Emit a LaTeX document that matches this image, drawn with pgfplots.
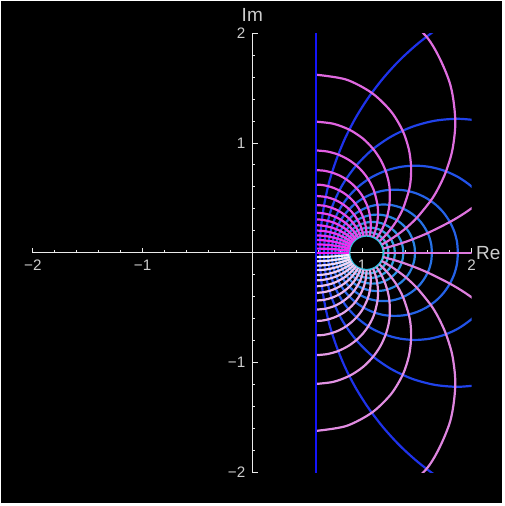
\documentclass[border=0pt]{standalone}
\usepackage{fontspec}
\setmainfont{Liberation Sans}
\usepackage{pgfplots}
\pgfplotsset{compat=1.18}
% colours
\definecolor{axgray}{RGB}{235,235,235}
\definecolor{lblgray}{RGB}{205,205,205}
\definecolor{bline}{RGB}{20,20,250}
\definecolor{bA}{RGB}{30,50,235}
\definecolor{bB}{RGB}{50,195,225}
\definecolor{pM}{RGB}{220,120,220}
\definecolor{pU}{RGB}{245,30,245}
\definecolor{pL}{RGB}{248,240,252}
\tikzset{
  pk/.style={line width=1.1pt, smooth},
  bl/.style={line width=1.1pt, smooth},
}
\begin{document}
\begin{tikzpicture}
\fill[white] (-16.45pt,-16.85pt) rectangle (235.55pt,236.15pt);
\fill[black] (-15.95pt,-15.35pt) rectangle (234.55pt,235.65pt);
\begin{axis}[
  scale only axis, width=219.4pt, height=219.5pt,
  anchor=south west, at={(0pt,0pt)},
  xmin=-2, xmax=2, ymin=-2, ymax=2,
  axis lines=middle,
  axis line style={-, draw=axgray, line width=0.5pt},
  xtick={-2,-1,1,2}, ytick={-2,-1,1,2},
  xticklabels={−2,−1,1,2}, yticklabels={−2,−1,1,2},
  minor xtick={-1.8,-1.6,-1.4,-1.2,-0.8,-0.6,-0.4,-0.2,0.2,0.4,0.6,0.8,1.2,1.4,1.6,1.8},
  minor ytick={-1.8,-1.6,-1.4,-1.2,-0.8,-0.6,-0.4,-0.2,0.2,0.4,0.6,0.8,1.2,1.4,1.6,1.8},
  tick style={draw=axgray, line width=0.5pt},
  major tick length=2.6pt, minor tick length=1.5pt,
  tick align=inside,
  ticklabel style={font=\fontsize{7.6}{8}\selectfont, text=lblgray},
  xlabel={Re}, ylabel={Im},
  every axis x label/.style={at={(rel axis cs:1,0.5)}, anchor=west, inner sep=2pt, font=\fontsize{9.5}{10}\selectfont, text=lblgray},
  every axis y label/.style={at={(rel axis cs:0.5,1)}, anchor=south, inner sep=1pt, yshift=4.5pt, font=\fontsize{9.5}{10}\selectfont, text=lblgray},
]
% ---- blue circles
\addplot[bl, draw=bA] coordinates {(1.856,2.148) (1.673,2.031) (1.502,1.900) (1.342,1.754) (1.196,1.594) (1.064,1.422) (0.948,1.240) (0.848,1.048) (0.766,0.848) (0.700,0.642) (0.654,0.431) (0.625,0.216) (0.616,0) (0.625,-0.216) (0.654,-0.431) (0.700,-0.642) (0.766,-0.848) (0.848,-1.048) (0.948,-1.240) (1.064,-1.422) (1.196,-1.594) (1.342,-1.754) (1.502,-1.900) (1.673,-2.031) (1.856,-2.148)};
\addplot[bl, draw=bB!11!bA] coordinates {(2.087,1.203) (1.874,1.221) (1.662,1.203) (1.457,1.148) (1.264,1.058) (1.089,0.936) (0.939,0.785) (0.817,0.611) (0.727,0.418) (0.672,0.212) (0.653,0) (0.672,-0.212) (0.727,-0.418) (0.817,-0.611) (0.939,-0.785) (1.089,-0.936) (1.264,-1.058) (1.457,-1.148) (1.662,-1.203) (1.874,-1.221) (2.087,-1.203)};
\addplot[bl, draw=bB!22!bA] coordinates {(2.092,0.510) (1.994,0.608) (1.880,0.688) (1.755,0.746) (1.621,0.782) (1.483,0.794) (1.346,0.782) (1.212,0.746) (1.086,0.688) (0.973,0.608) (0.875,0.510) (0.796,0.397) (0.737,0.272) (0.702,0.138) (0.689,0) (0.702,-0.138) (0.737,-0.272) (0.796,-0.397) (0.875,-0.510) (0.973,-0.608) (1.086,-0.688) (1.212,-0.746) (1.346,-0.782) (1.483,-0.794) (1.621,-0.782) (1.755,-0.746) (1.880,-0.688) (1.994,-0.608) (2.092,-0.510)};
\addplot[bl, draw=bB!33!bA] coordinates {(1.874,0) (1.866,0.100) (1.840,0.197) (1.797,0.288) (1.740,0.370) (1.669,0.441) (1.587,0.498) (1.496,0.541) (1.399,0.567) (1.299,0.575) (1.199,0.567) (1.103,0.541) (1.012,0.498) (0.930,0.441) (0.859,0.370) (0.801,0.288) (0.759,0.197) (0.733,0.100) (0.724,0) (0.733,-0.100) (0.759,-0.197) (0.801,-0.288) (0.859,-0.370) (0.930,-0.441) (1.012,-0.498) (1.103,-0.541) (1.199,-0.567) (1.299,-0.575) (1.399,-0.567) (1.496,-0.541) (1.587,-0.498) (1.669,-0.441) (1.740,-0.370) (1.797,-0.288) (1.840,-0.197) (1.866,-0.100) (1.874,0)};
\addplot[bl, draw=bB!44!bA] coordinates {(1.637,0) (1.631,0.077) (1.611,0.151) (1.578,0.220) (1.534,0.283) (1.480,0.337) (1.417,0.381) (1.348,0.414) (1.274,0.434) (1.197,0.440) (1.121,0.434) (1.046,0.414) (0.977,0.381) (0.914,0.337) (0.860,0.283) (0.816,0.220) (0.783,0.151) (0.763,0.077) (0.757,0) (0.763,-0.077) (0.783,-0.151) (0.816,-0.220) (0.860,-0.283) (0.914,-0.337) (0.977,-0.381) (1.046,-0.414) (1.121,-0.434) (1.197,-0.440) (1.274,-0.434) (1.348,-0.414) (1.417,-0.381) (1.480,-0.337) (1.534,-0.283) (1.578,-0.220) (1.611,-0.151) (1.631,-0.077) (1.637,0)};
\addplot[bl, draw=bB!56!bA] coordinates {(1.483,0) (1.478,0.061) (1.462,0.119) (1.437,0.174) (1.402,0.224) (1.359,0.267) (1.309,0.302) (1.254,0.327) (1.196,0.343) (1.135,0.348) (1.075,0.343) (1.016,0.327) (0.961,0.302) (0.911,0.267) (0.869,0.224) (0.834,0.174) (0.808,0.119) (0.792,0.061) (0.787,0) (0.792,-0.061) (0.808,-0.119) (0.834,-0.174) (0.869,-0.224) (0.911,-0.267) (0.961,-0.302) (1.016,-0.327) (1.075,-0.343) (1.135,-0.348) (1.196,-0.343) (1.254,-0.327) (1.309,-0.302) (1.359,-0.267) (1.402,-0.224) (1.437,-0.174) (1.462,-0.119) (1.478,-0.061) (1.483,0)};
\addplot[bl, draw=bB!67!bA] coordinates {(1.377,0) (1.372,0.049) (1.360,0.096) (1.339,0.140) (1.311,0.181) (1.276,0.215) (1.236,0.243) (1.192,0.264) (1.145,0.277) (1.096,0.281) (1.047,0.277) (1.000,0.264) (0.955,0.243) (0.915,0.215) (0.881,0.181) (0.853,0.140) (0.832,0.096) (0.819,0.049) (0.815,0) (0.819,-0.049) (0.832,-0.096) (0.853,-0.140) (0.881,-0.181) (0.915,-0.215) (0.955,-0.243) (1.000,-0.264) (1.047,-0.277) (1.096,-0.281) (1.145,-0.277) (1.192,-0.264) (1.236,-0.243) (1.276,-0.215) (1.311,-0.181) (1.339,-0.140) (1.360,-0.096) (1.372,-0.049) (1.377,0)};
\addplot[bl, draw=bB!78!bA] coordinates {(1.299,0) (1.296,0.040) (1.285,0.079) (1.269,0.115) (1.246,0.148) (1.217,0.176) (1.185,0.199) (1.148,0.216) (1.110,0.226) (1.070,0.229) (1.030,0.226) (0.991,0.216) (0.955,0.199) (0.922,0.176) (0.894,0.148) (0.871,0.115) (0.854,0.079) (0.844,0.040) (0.840,0) (0.844,-0.040) (0.854,-0.079) (0.871,-0.115) (0.894,-0.148) (0.922,-0.176) (0.955,-0.199) (0.991,-0.216) (1.030,-0.226) (1.070,-0.229) (1.110,-0.226) (1.148,-0.216) (1.185,-0.199) (1.217,-0.176) (1.246,-0.148) (1.269,-0.115) (1.285,-0.079) (1.296,-0.040) (1.299,0)};
\addplot[bl, draw=bB!89!bA] coordinates {(1.241,0) (1.238,0.033) (1.230,0.065) (1.216,0.095) (1.197,0.122) (1.174,0.145) (1.147,0.164) (1.117,0.178) (1.085,0.186) (1.052,0.189) (1.020,0.186) (0.988,0.178) (0.958,0.164) (0.931,0.145) (0.908,0.122) (0.889,0.095) (0.875,0.065) (0.866,0.033) (0.863,0) (0.866,-0.033) (0.875,-0.065) (0.889,-0.095) (0.908,-0.122) (0.931,-0.145) (0.958,-0.164) (0.988,-0.178) (1.020,-0.186) (1.052,-0.189) (1.085,-0.186) (1.117,-0.178) (1.147,-0.164) (1.174,-0.145) (1.197,-0.122) (1.216,-0.095) (1.230,-0.065) (1.238,-0.033) (1.241,0)};
\addplot[bl, draw=bB] coordinates {(1.197,0) (1.195,0.027) (1.188,0.054) (1.176,0.078) (1.160,0.101) (1.141,0.120) (1.119,0.136) (1.094,0.147) (1.068,0.154) (1.040,0.157) (1.013,0.154) (0.987,0.147) (0.962,0.136) (0.940,0.120) (0.920,0.101) (0.905,0.078) (0.893,0.054) (0.886,0.027) (0.884,0) (0.886,-0.027) (0.893,-0.054) (0.905,-0.078) (0.920,-0.101) (0.940,-0.120) (0.962,-0.136) (0.987,-0.147) (1.013,-0.154) (1.040,-0.157) (1.068,-0.154) (1.094,-0.147) (1.119,-0.136) (1.141,-0.120) (1.160,-0.101) (1.176,-0.078) (1.188,-0.054) (1.195,-0.027) (1.197,0)};
% ---- pink rays, upper half
\addplot[pk, draw=pM] coordinates {(1.197,0) (2.1,0)};
\addplot[pk, draw=pU!100!pM] coordinates {(0.578,0) (0.884,0)};
\addplot[pk, draw=pU!6!pM] coordinates {(2.111,0.486) (1.939,0.364) (1.801,0.281) (1.599,0.180) (1.461,0.123) (1.363,0.088) (1.290,0.065) (1.235,0.050) (1.192,0.038)};
\addplot[pk, draw=pU!11!pM] coordinates {(1.171,2.320) (1.588,1.969) (1.793,1.570) (1.850,1.221) (1.826,0.948) (1.766,0.742) (1.696,0.589) (1.626,0.474) (1.500,0.319) (1.401,0.225) (1.323,0.165) (1.263,0.124) (1.216,0.095) (1.179,0.074)};
\addplot[pk, draw=pU!17!pM] coordinates {(0.578,1.623) (0.854,1.579) (1.089,1.457) (1.262,1.291) (1.371,1.112) (1.427,0.943) (1.447,0.793) (1.444,0.666) (1.426,0.561) (1.374,0.403) (1.318,0.296) (1.267,0.222) (1.224,0.170) (1.187,0.132) (1.157,0.104)};
\addplot[pk, draw=pU!22!pM] coordinates {(0.578,1.195) (0.738,1.176) (0.884,1.122) (1.007,1.042) (1.102,0.946) (1.170,0.846) (1.215,0.747) (1.241,0.656) (1.253,0.573) (1.250,0.437) (1.230,0.335) (1.203,0.259) (1.177,0.203) (1.152,0.160) (1.131,0.128)};
\addplot[pk, draw=pU!28!pM] coordinates {(0.578,0.933) (0.683,0.923) (0.783,0.895) (0.872,0.851) (0.948,0.796) (1.010,0.734) (1.057,0.670) (1.092,0.606) (1.116,0.545) (1.141,0.437) (1.146,0.348) (1.139,0.277) (1.128,0.222) (1.114,0.179) (1.101,0.144)};
\addplot[pk, draw=pU!33!pM] coordinates {(0.578,0.753) (0.653,0.748) (0.726,0.731) (0.794,0.705) (0.854,0.671) (0.906,0.631) (0.950,0.588) (0.986,0.544) (1.014,0.500) (1.053,0.416) (1.072,0.342) (1.079,0.280) (1.080,0.229) (1.076,0.188) (1.071,0.154)};
\addplot[pk, draw=pU!39!pM] coordinates {(0.578,0.621) (0.635,0.618) (0.691,0.607) (0.744,0.590) (0.793,0.568) (0.838,0.542) (0.877,0.512) (0.910,0.481) (0.939,0.448) (0.982,0.384) (1.010,0.325) (1.027,0.272) (1.036,0.227) (1.040,0.189) (1.041,0.157)};
\addplot[pk, draw=pU!44!pM] coordinates {(0.578,0.518) (0.669,0.509) (0.753,0.483) (0.825,0.443) (0.883,0.397) (0.927,0.348) (0.959,0.300) (0.982,0.257) (0.997,0.217) (1.007,0.183) (1.013,0.154)};
\addplot[pk, draw=pU!50!pM] coordinates {(0.578,0.435) (0.653,0.429) (0.724,0.410) (0.787,0.382) (0.840,0.347) (0.884,0.310) (0.918,0.272) (0.944,0.236) (0.963,0.203) (0.977,0.173) (0.987,0.147)};
\addplot[pk, draw=pU!56!pM] coordinates {(0.578,0.365) (0.642,0.360) (0.703,0.347) (0.759,0.326) (0.809,0.300) (0.850,0.271) (0.884,0.242) (0.912,0.212) (0.934,0.185) (0.951,0.160) (0.965,0.137)};
\addplot[pk, draw=pU!61!pM] coordinates {(0.578,0.305) (0.634,0.301) (0.688,0.291) (0.739,0.276) (0.784,0.256) (0.824,0.234) (0.858,0.211) (0.886,0.187) (0.910,0.164) (0.929,0.143) (0.945,0.124)};
\addplot[pk, draw=pU!67!pM] coordinates {(0.578,0.251) (0.628,0.249) (0.677,0.241) (0.723,0.230) (0.766,0.215) (0.804,0.198) (0.837,0.179) (0.866,0.161) (0.890,0.143) (0.911,0.125) (0.928,0.109)};
\addplot[pk, draw=pU!72!pM] coordinates {(0.578,0.203) (0.624,0.201) (0.669,0.196) (0.712,0.187) (0.752,0.176) (0.788,0.163) (0.820,0.149) (0.849,0.134) (0.874,0.120) (0.896,0.106) (0.914,0.093)};
\addplot[pk, draw=pU!78!pM] coordinates {(0.578,0.158) (0.621,0.157) (0.663,0.153) (0.703,0.147) (0.741,0.138) (0.776,0.129) (0.808,0.118) (0.836,0.107) (0.862,0.096) (0.884,0.085) (0.903,0.075)};
\addplot[pk, draw=pU!83!pM] coordinates {(0.578,0.117) (0.619,0.116) (0.658,0.113) (0.697,0.108) (0.733,0.103) (0.767,0.096) (0.798,0.088) (0.827,0.080) (0.852,0.072) (0.875,0.064) (0.894,0.057)};
\addplot[pk, draw=pU!89!pM] coordinates {(0.578,0.077) (0.617,0.076) (0.655,0.074) (0.693,0.072) (0.728,0.068) (0.761,0.063) (0.792,0.059) (0.820,0.053) (0.846,0.048) (0.868,0.043) (0.888,0.038)};
\addplot[pk, draw=pU!94!pM] coordinates {(0.578,0.038) (0.616,0.038) (0.654,0.037) (0.690,0.036) (0.725,0.034) (0.758,0.032) (0.788,0.029) (0.816,0.027) (0.842,0.024) (0.865,0.022) (0.885,0.019)};
% ---- pink rays, lower half
\addplot[pk, draw=pL!6!pM] coordinates {(2.111,-0.486) (1.939,-0.364) (1.801,-0.281) (1.599,-0.180) (1.461,-0.123) (1.363,-0.088) (1.290,-0.065) (1.235,-0.050) (1.192,-0.038)};
\addplot[pk, draw=pL!11!pM] coordinates {(1.171,-2.320) (1.588,-1.969) (1.793,-1.570) (1.850,-1.221) (1.826,-0.948) (1.766,-0.742) (1.696,-0.589) (1.626,-0.474) (1.500,-0.319) (1.401,-0.225) (1.323,-0.165) (1.263,-0.124) (1.216,-0.095) (1.179,-0.074)};
\addplot[pk, draw=pL!17!pM] coordinates {(0.578,-1.623) (0.854,-1.579) (1.089,-1.457) (1.262,-1.291) (1.371,-1.112) (1.427,-0.943) (1.447,-0.793) (1.444,-0.666) (1.426,-0.561) (1.374,-0.403) (1.318,-0.296) (1.267,-0.222) (1.224,-0.170) (1.187,-0.132) (1.157,-0.104)};
\addplot[pk, draw=pL!22!pM] coordinates {(0.578,-1.195) (0.738,-1.176) (0.884,-1.122) (1.007,-1.042) (1.102,-0.946) (1.170,-0.846) (1.215,-0.747) (1.241,-0.656) (1.253,-0.573) (1.250,-0.437) (1.230,-0.335) (1.203,-0.259) (1.177,-0.203) (1.152,-0.160) (1.131,-0.128)};
\addplot[pk, draw=pL!28!pM] coordinates {(0.578,-0.933) (0.683,-0.923) (0.783,-0.895) (0.872,-0.851) (0.948,-0.796) (1.010,-0.734) (1.057,-0.670) (1.092,-0.606) (1.116,-0.545) (1.141,-0.437) (1.146,-0.348) (1.139,-0.277) (1.128,-0.222) (1.114,-0.179) (1.101,-0.144)};
\addplot[pk, draw=pL!33!pM] coordinates {(0.578,-0.753) (0.653,-0.748) (0.726,-0.731) (0.794,-0.705) (0.854,-0.671) (0.906,-0.631) (0.950,-0.588) (0.986,-0.544) (1.014,-0.500) (1.053,-0.416) (1.072,-0.342) (1.079,-0.280) (1.080,-0.229) (1.076,-0.188) (1.071,-0.154)};
\addplot[pk, draw=pL!39!pM] coordinates {(0.578,-0.621) (0.635,-0.618) (0.691,-0.607) (0.744,-0.590) (0.793,-0.568) (0.838,-0.542) (0.877,-0.512) (0.910,-0.481) (0.939,-0.448) (0.982,-0.384) (1.010,-0.325) (1.027,-0.272) (1.036,-0.227) (1.040,-0.189) (1.041,-0.157)};
\addplot[pk, draw=pL!44!pM] coordinates {(0.578,-0.518) (0.669,-0.509) (0.753,-0.483) (0.825,-0.443) (0.883,-0.397) (0.927,-0.348) (0.959,-0.300) (0.982,-0.257) (0.997,-0.217) (1.007,-0.183) (1.013,-0.154)};
\addplot[pk, draw=pL!50!pM] coordinates {(0.578,-0.435) (0.653,-0.429) (0.724,-0.410) (0.787,-0.382) (0.840,-0.347) (0.884,-0.310) (0.918,-0.272) (0.944,-0.236) (0.963,-0.203) (0.977,-0.173) (0.987,-0.147)};
\addplot[pk, draw=pL!56!pM] coordinates {(0.578,-0.365) (0.642,-0.360) (0.703,-0.347) (0.759,-0.326) (0.809,-0.300) (0.850,-0.271) (0.884,-0.242) (0.912,-0.212) (0.934,-0.185) (0.951,-0.160) (0.965,-0.137)};
\addplot[pk, draw=pL!61!pM] coordinates {(0.578,-0.305) (0.634,-0.301) (0.688,-0.291) (0.739,-0.276) (0.784,-0.256) (0.824,-0.234) (0.858,-0.211) (0.886,-0.187) (0.910,-0.164) (0.929,-0.143) (0.945,-0.124)};
\addplot[pk, draw=pL!67!pM] coordinates {(0.578,-0.251) (0.628,-0.249) (0.677,-0.241) (0.723,-0.230) (0.766,-0.215) (0.804,-0.198) (0.837,-0.179) (0.866,-0.161) (0.890,-0.143) (0.911,-0.125) (0.928,-0.109)};
\addplot[pk, draw=pL!72!pM] coordinates {(0.578,-0.203) (0.624,-0.201) (0.669,-0.196) (0.712,-0.187) (0.752,-0.176) (0.788,-0.163) (0.820,-0.149) (0.849,-0.134) (0.874,-0.120) (0.896,-0.106) (0.914,-0.093)};
\addplot[pk, draw=pL!78!pM] coordinates {(0.578,-0.158) (0.621,-0.157) (0.663,-0.153) (0.703,-0.147) (0.741,-0.138) (0.776,-0.129) (0.808,-0.118) (0.836,-0.107) (0.862,-0.096) (0.884,-0.085) (0.903,-0.075)};
\addplot[pk, draw=pL!83!pM] coordinates {(0.578,-0.117) (0.619,-0.116) (0.658,-0.113) (0.697,-0.108) (0.733,-0.103) (0.767,-0.096) (0.798,-0.088) (0.827,-0.080) (0.852,-0.072) (0.875,-0.064) (0.894,-0.057)};
\addplot[pk, draw=pL!89!pM] coordinates {(0.578,-0.077) (0.617,-0.076) (0.655,-0.074) (0.693,-0.072) (0.728,-0.068) (0.761,-0.063) (0.792,-0.059) (0.820,-0.053) (0.846,-0.048) (0.868,-0.043) (0.888,-0.038)};
\addplot[pk, draw=pL!94!pM] coordinates {(0.578,-0.038) (0.616,-0.038) (0.654,-0.037) (0.690,-0.036) (0.725,-0.034) (0.758,-0.032) (0.788,-0.029) (0.816,-0.027) (0.842,-0.024) (0.865,-0.022) (0.885,-0.019)};
% outer boundary line
\addplot[line width=1.15pt, draw=bline] coordinates {(0.578,-2.1) (0.578,2.1)};
\end{axis}
\end{tikzpicture}
\end{document}
